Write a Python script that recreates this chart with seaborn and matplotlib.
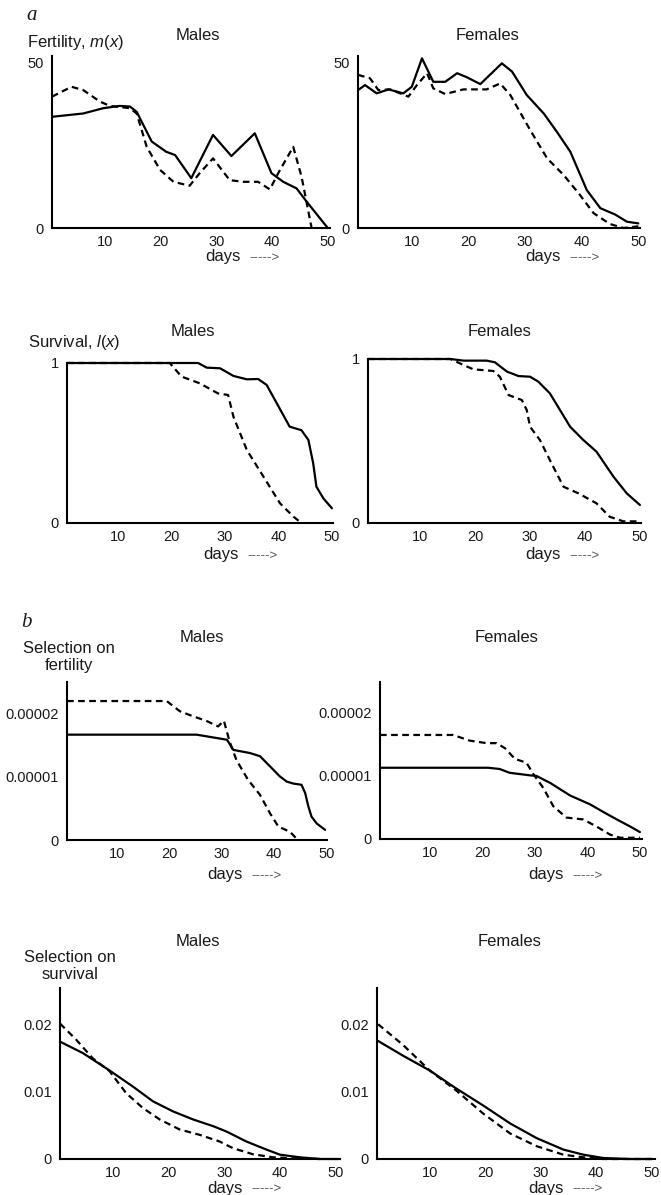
import numpy as np
import pandas as pd
import matplotlib.pyplot as plt
import seaborn as sns

#%% DATA
# a) fertility m(x)
fert_m_sol_x = [0.5, 6.1, 9.7, 12.7, 14.5, 15.7, 18.4, 21.0, 22.6, 25.5, 29.4, 32.7, 36.9, 39.9, 42.0, 44.4, 46.2, 50.0]
fert_m_sol_y = [33.7, 34.7, 36.3, 37.0, 36.8, 35.2, 26.2, 23.1, 22.1, 15.1, 28.2, 21.8, 28.7, 16.6, 14.0, 12.0, 8.0, 0.0]
fert_m_dash_x = [0.5, 4.0, 6.1, 9.1, 10.9, 14.5, 15.7, 17.5, 19.9, 22.3, 25.2, 27.0, 29.4, 32.4, 34.8, 37.5, 39.6, 41.1, 43.8, 45.3, 47.1]
fert_m_dash_y = [39.8, 42.8, 41.8, 38.3, 37.0, 36.3, 34.7, 24.6, 17.6, 14.0, 12.8, 16.6, 21.1, 14.5, 14.0, 14.0, 11.7, 16.6, 24.6, 15.5, 0.0]

fert_f_sol_x = [0.5, 1.75, 3.8, 5.9, 8.5, 10.0, 11.8, 13.8, 15.9, 18.0, 19.7, 22.1, 25.9, 27.7, 30.3, 33.3, 35.6, 38.0, 40.9, 43.3, 45.9, 48.0, 50.0]
fert_f_sol_y = [41.8, 43.3, 40.8, 42.0, 40.8, 42.8, 51.4, 44.3, 44.3, 46.9, 45.7, 43.6, 49.9, 47.4, 40.3, 34.7, 29.2, 23.1, 11.5, 6.0, 4.1, 1.9, 1.4]
fert_f_dash_x = [0.5, 2.6, 4.1, 6.2, 9.4, 10.9, 12.7, 13.8, 15.9, 19.1, 23.2, 25.6, 27.4, 30.9, 33.9, 36.8, 39.7, 42.1, 45.0, 47.4, 50.0]
fert_f_dash_y = [46.4, 45.4, 41.8, 42.0, 39.8, 43.3, 46.9, 42.3, 40.6, 42.0, 42.0, 43.8, 40.3, 29.7, 21.1, 16.1, 10.0, 4.5, 1.2, 0.0, 0.5]

# a) survival l(x)
surv_m_sol_x = [0.5, 25.0, 26.6, 29.1, 31.6, 34.1, 36.2, 37.8, 39.7, 42.1, 44.3, 45.6, 46.5, 47.1, 48.4, 50.0]
surv_m_sol_y = [1.0, 1.0, 0.971, 0.967, 0.919, 0.898, 0.900, 0.863, 0.748, 0.602, 0.580, 0.519, 0.373, 0.227, 0.154, 0.092]
surv_m_dash_x = [0.5, 19.7, 21.9, 25.3, 28.7, 30.6, 31.6, 34.1, 37.2, 40.3, 42.8, 44.3]
surv_m_dash_y = [1.0, 1.0, 0.915, 0.873, 0.810, 0.800, 0.664, 0.456, 0.290, 0.123, 0.040, 0.0]

surv_f_sol_x = [0.5, 15.5, 17.9, 22.1, 23.6, 25.8, 27.9, 30.0, 31.5, 33.6, 37.3, 39.7, 42.1, 45.2, 47.6, 50.0]
surv_f_sol_y = [1.0, 1.0, 0.99, 0.99, 0.98, 0.923, 0.896, 0.892, 0.862, 0.791, 0.587, 0.506, 0.435, 0.282, 0.181, 0.110]
surv_f_dash_x = [0.5, 15.5, 17.9, 19.7, 23.3, 24.5, 26.1, 28.5, 29.4, 30.0, 31.8, 33.9, 36.1, 38.8, 42.1, 44.5, 47.0, 50.0]
surv_f_dash_y = [1.0, 1.0, 0.963, 0.937, 0.927, 0.892, 0.780, 0.750, 0.689, 0.587, 0.506, 0.364, 0.221, 0.181, 0.120, 0.038, 0.010, 0.010]

# b) selection on fertility (units of 0.00001)
self_m_sol_x = [0.5, 25.2, 31.0, 32.2, 35.4, 37.3, 38.6, 39.8, 41.1, 42.4, 43.6, 45.2, 45.9, 46.5, 47.1, 48.1, 49.7]
self_m_sol_y = [1.66, 1.66, 1.58, 1.42, 1.37, 1.32, 1.21, 1.11, 1.00, 0.92, 0.89, 0.87, 0.74, 0.53, 0.37, 0.26, 0.16]
self_m_dash_x = [0.5, 19.5, 22.0, 24.5, 27.0, 29.3, 30.4, 31.5, 32.8, 35.0, 37.3, 39.2, 40.8, 43.0, 44.5]
self_m_dash_y = [2.19, 2.19, 2.03, 1.95, 1.88, 1.79, 1.88, 1.55, 1.26, 0.95, 0.71, 0.42, 0.21, 0.13, 0.0]

self_f_sol_x = [0.5, 21.1, 23.3, 25.2, 29.0, 30.3, 32.9, 36.7, 40.5, 43.0, 45.6, 48.1, 50.0]
self_f_sol_y = [1.13, 1.13, 1.11, 1.05, 1.01, 1.00, 0.89, 0.69, 0.55, 0.43, 0.31, 0.20, 0.11]
self_f_dash_x = [0.5, 14.4, 17.6, 20.8, 22.7, 24.3, 26.2, 28.4, 29.7, 31.6, 33.5, 36.0, 39.2, 41.7, 44.3, 46.2, 50.0]
self_f_dash_y = [1.65, 1.65, 1.56, 1.52, 1.52, 1.44, 1.27, 1.21, 1.03, 0.81, 0.52, 0.34, 0.31, 0.20, 0.07, 0.02, 0.02]

# b) selection on survival
sels_m_sol_x = [0.5, 4.6, 9.4, 13.6, 17.2, 20.8, 24.4, 28.0, 30.4, 34.0, 37.6, 40.0, 43.6, 47.2, 50.6]
sels_m_sol_y = [0.0175, 0.0158, 0.0132, 0.0108, 0.0086, 0.0071, 0.0059, 0.0049, 0.0041, 0.0026, 0.0014, 0.00065, 0.00025, 0.0, 0.0]
sels_m_dash_x = [0.5, 3.4, 6.4, 9.4, 12.4, 15.4, 18.4, 22.0, 25.6, 29.2, 31.6, 35.2, 38.8, 42.4, 47.2]
sels_m_dash_y = [0.0202, 0.0178, 0.0150, 0.0131, 0.0098, 0.0076, 0.0059, 0.0044, 0.0036, 0.0026, 0.0016, 0.0007, 0.00025, 0.0001, 0.0]

sels_f_sol_x = [0.7, 5.2, 10.0, 14.8, 19.6, 24.5, 29.3, 34.1, 37.7, 41.3, 46.1, 50.0]
sels_f_sol_y = [0.0176, 0.0154, 0.0132, 0.0105, 0.0080, 0.0053, 0.0031, 0.0014, 0.00064, 0.00015, 0.0, 0.0]
sels_f_dash_x = [0.7, 5.2, 10.0, 14.8, 19.6, 24.5, 29.3, 34.1, 37.7, 41.3, 50.0]
sels_f_dash_y = [0.0201, 0.0170, 0.0132, 0.0102, 0.0068, 0.0038, 0.0019, 0.00064, 0.00025, 0.0, 0.0]

day_ticks = [10, 20, 30, 40, 50]
fert_ticks, fert_labels = [0, 50], ["0", "50"]
surv_ticks, surv_labels = [0, 1], ["0", "1"]
self_ticks, self_labels = [0, 1, 2], ["0", "0.00001", "0.00002"]
sels_ticks, sels_labels = [0, 0.01, 0.02], ["0", "0.01", "0.02"]

#%% STYLE
sns.set_style("ticks")
plt.rcParams['font.family'] = ['Liberation Sans', 'DejaVu Sans']
plt.rcParams['mathtext.fontset'] = 'custom'
plt.rcParams['mathtext.rm'] = 'Liberation Sans'
plt.rcParams['mathtext.it'] = 'Liberation Sans:italic'
plt.rcParams['axes.linewidth'] = 1.5
plt.rcParams['axes.edgecolor'] = 'black'

W, H = 661, 1195
fig = plt.figure(figsize=(W / 100, H / 100), dpi=100)
fig.patch.set_facecolor('white')


def make_df(sx, sy, dx, dy):
    a = pd.DataFrame({'day': sx, 'val': sy, 'line': 'solid'})
    b = pd.DataFrame({'day': dx, 'val': dy, 'line': 'dashed'})
    return pd.concat([a, b], ignore_index=True)


def panel(df, left, right, top, bottom, xlim, ylim, yticks, ylabels):
    ax = fig.add_axes([left / W, 1 - bottom / H, (right - left) / W, (bottom - top) / H])
    sns.lineplot(data=df, x='day', y='val', style='line',
                 dashes={'solid': '', 'dashed': (3, 2)}, color='black',
                 linewidth=1.6, legend=False, ax=ax, clip_on=False)
    ax.set_xlim(xlim)
    ax.set_ylim(ylim)
    ax.set_xticks(day_ticks)
    ax.set_yticks(yticks)
    ax.set_yticklabels(ylabels)
    ax.tick_params(length=0, labelsize=10.5, colors='#1a1a1a')
    ax.tick_params(axis='x', pad=5)
    ax.tick_params(axis='y', pad=6)
    ax.set_xlabel("")
    ax.set_ylabel("")
    sns.despine(ax=ax)
    ax.patch.set_alpha(0)
    return ax


def ftext(px, py, s, **kw):
    fig.text(px / W, 1 - py / H, s, **kw)


#%% PANELS
panel(make_df(fert_m_sol_x, fert_m_sol_y, fert_m_dash_x, fert_m_dash_y),
      52, 330, 56.4, 228, (0.5, 50.4), (0, 52), fert_ticks, fert_labels)
panel(make_df(fert_f_sol_x, fert_f_sol_y, fert_f_dash_x, fert_f_dash_y),
      358, 640, 56.4, 228, (0.5, 50.3), (0, 52), fert_ticks, fert_labels)
panel(make_df(surv_m_sol_x, surv_m_sol_y, surv_m_dash_x, surv_m_dash_y),
      67, 333, 363, 523, (0.5, 50.2), (0, 1), surv_ticks, surv_labels)
panel(make_df(surv_f_sol_x, surv_f_sol_y, surv_f_dash_x, surv_f_dash_y),
      368, 641, 359, 523, (0.5, 50.2), (0, 1), surv_ticks, surv_labels)
panel(make_df(self_m_sol_x, self_m_sol_y, self_m_dash_x, self_m_dash_y),
      67, 327, 682, 840, (0.5, 50.06), (0, 2.49), self_ticks, self_labels)
panel(make_df(self_f_sol_x, self_f_sol_y, self_f_dash_x, self_f_dash_y),
      380, 642, 682, 839, (0.5, 50.4), (0, 2.49), self_ticks, self_labels)
panel(make_df(sels_m_sol_x, sels_m_sol_y, sels_m_dash_x, sels_m_dash_y),
      60, 340, 988, 1159, (0.5, 50.8), (0, 0.0255), sels_ticks, sels_labels)
panel(make_df(sels_f_sol_x, sels_f_sol_y, sels_f_dash_x, sels_f_dash_y),
      377, 655, 988, 1159, (0.5, 50.6), (0, 0.0255), sels_ticks, sels_labels)

#%% TEXT
tc = '#1a1a1a'
serif = ['Liberation Serif', 'DejaVu Serif']
ftext(32, 16, "a", family=serif, style='italic', fontsize=15, ha='center', va='center', color=tc)
ftext(26, 622, "b", family=serif, style='italic', fontsize=15, ha='center', va='center', color=tc)

ftext(27, 43, r"Fertility, $\mathit{m(x)}$", fontsize=12, ha='left', va='center', color=tc)
ftext(28, 343, r"Survival, $\mathit{l(x)}$", fontsize=12, ha='left', va='center', color=tc)
ftext(69, 657, "Selection on\nfertility", fontsize=12, ha='center', va='center',
      multialignment='center', linespacing=1.1, color=tc)
ftext(70, 966, "Selection on\nsurvival", fontsize=12, ha='center', va='center',
      multialignment='center', linespacing=1.1, color=tc)

titles = [(198, 35, "Males"), (488, 35, "Females"),
          (193, 332, "Males"), (500, 332, "Females"),
          (202, 637, "Males"), (507, 637, "Females"),
          (198, 942, "Males"), (510, 942, "Females")]
for tx, ty, s in titles:
    ftext(tx, ty, s, fontsize=12, ha='center', va='center', color=tc)

days_pos = [(205, 257), (525, 257), (203, 555), (525, 555),
            (207, 875), (528, 875), (207, 1188), (528, 1188)]
for dx, dy in days_pos:
    ftext(dx, dy, "days", fontsize=12, ha='left', va='center', color=tc)
    ftext(dx + 44, dy + 1, "----->", fontsize=9.5, ha='left', va='center', color='#555555')

fig.savefig("out.png", dpi=100, facecolor='white')
